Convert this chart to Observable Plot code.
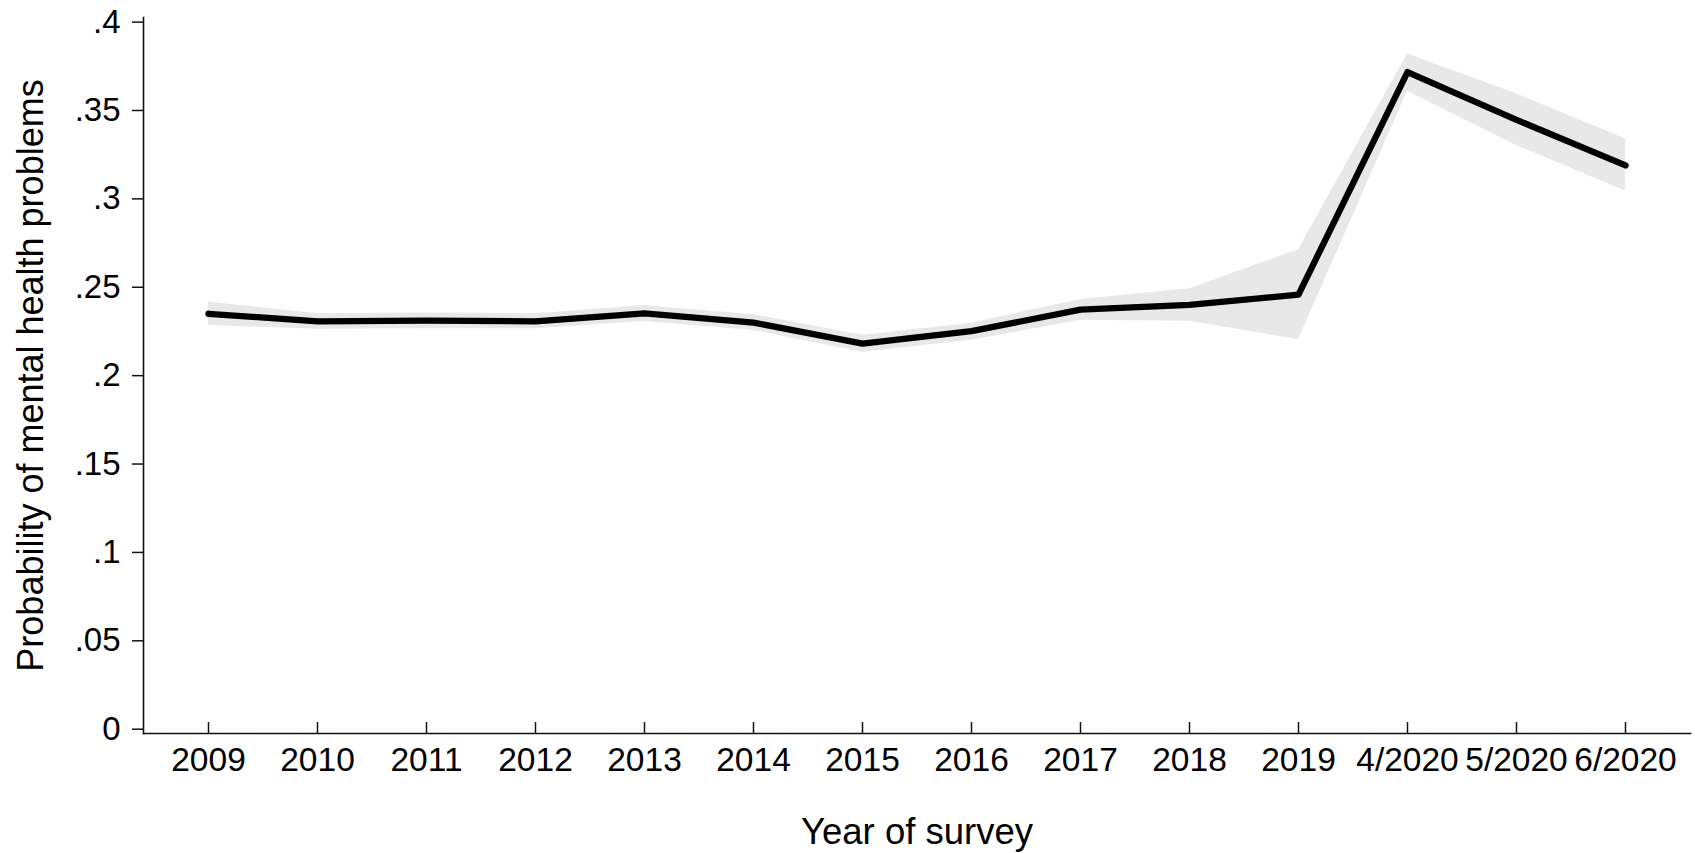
<!DOCTYPE html>
<html>
<head>
<meta charset="utf-8">
<script src="https://cdn.jsdelivr.net/npm/d3@7"></script>
<script src="https://cdn.jsdelivr.net/npm/@observablehq/plot@0.6"></script>
<style>
  html, body { margin: 0; padding: 0; background: #fff; }
  #chart svg { display: block; }
</style>
</head>
<body>
<div id="chart"></div>
<script>
// Survey waves (x categories)
const waves = ["2009", "2010", "2011", "2012", "2013", "2014", "2015", "2016", "2017", "2018", "2019", "4/2020", "5/2020", "6/2020"];
// Predicted probability of mental health problems
const prob = [0.2350, 0.2307, 0.2311, 0.2307, 0.2352, 0.2300, 0.2181, 0.2252, 0.2373, 0.2400, 0.2458, 0.3717, 0.3447, 0.3189];
// 95% confidence interval bounds
const ciLow  = [0.2284, 0.2262, 0.2266, 0.2266, 0.2307, 0.2256, 0.2133, 0.2200, 0.2313, 0.2308, 0.2203, 0.3609, 0.3302, 0.3044];
const ciHigh = [0.2416, 0.2350, 0.2354, 0.2350, 0.2397, 0.2345, 0.2228, 0.2297, 0.2431, 0.2492, 0.2712, 0.3820, 0.3594, 0.3340];
// Y tick values
const yTicks = [0, 0.05, 0.1, 0.15, 0.2, 0.25, 0.3, 0.35, 0.4];

const xLabel = "Year of survey";
const yLabel = "Probability of mental health problems";

const data = waves.map((w, i) => ({wave: w, p: prob[i], lo: ciLow[i], hi: ciHigh[i]}));
const fmt = d => d === 0 ? "0" : String(d).replace(/^0/, "");

const chart = Plot.plot({
  width: 1695,
  height: 853,
  marginLeft: 143,
  marginRight: 5,
  marginTop: 17,
  marginBottom: 120,
  style: {fontFamily: "'Liberation Sans', Arial, Helvetica, sans-serif", background: "#fff", color: "#000"},
  x: {type: "point", domain: waves, padding: 0.545, axis: null},
  y: {domain: [0, 0.4], insetTop: 4.6, insetBottom: 4.3, axis: null},
  marks: [
    Plot.areaY(data, {x: "wave", y1: "lo", y2: "hi", fill: "#e8e8e8"}),
    Plot.lineY(data, {x: "wave", y: "p", stroke: "#000", strokeWidth: 6.3, strokeLinejoin: "round", strokeLinecap: "round"}),
    Plot.frame({anchor: "left", stroke: "#111", strokeWidth: 1.6}),
    Plot.frame({anchor: "bottom", stroke: "#111", strokeWidth: 1.6}),
    // y axis ticks and labels
    Plot.axisY({ticks: yTicks, tickSize: 11, tickPadding: 12, tickFormat: fmt, fontSize: 33, stroke: "#111", strokeWidth: 1.5, label: null}),
    // y axis title
    Plot.axisY({ticks: [], label: yLabel, labelAnchor: "center", labelArrow: "none", labelOffset: 126, fontSize: 36}),
    // x tick marks (inward)
    Plot.axisX({tickSize: 11, dy: -11, fill: "none", stroke: "#111", strokeWidth: 1.5, label: null}),
    // x tick labels
    Plot.axisX({tickSize: 0, tickPadding: 14, fontSize: 33.5, label: null}),
    // x axis title
    Plot.axisX({ticks: [], label: xLabel, labelAnchor: "center", labelArrow: "none", labelOffset: 110, fontSize: 36.5})
  ]
});

document.getElementById("chart").appendChild(chart);
</script>
</body>
</html>
